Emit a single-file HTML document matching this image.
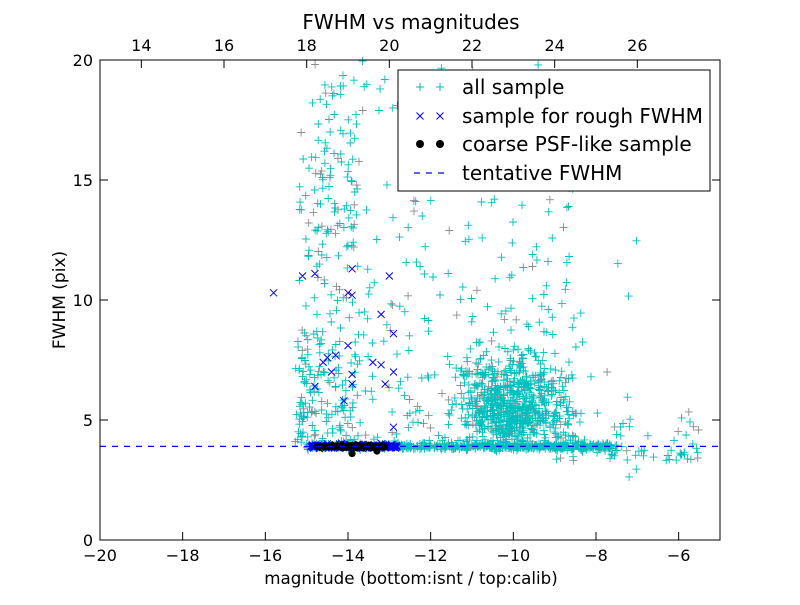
<!DOCTYPE html>
<html><head><meta charset="utf-8">
<style>
body{margin:0;background:#fff;}
svg text{font-family:"DejaVu Sans","Liberation Sans",sans-serif;fill:#000;}
</style></head>
<body>
<svg id="s" width="800" height="600" xmlns="http://www.w3.org/2000/svg">
<rect width="800" height="600" fill="#fff"/>
<g id="pts"></g>
<line x1="100" y1="446.4" x2="720" y2="446.4" stroke="#0000ff" stroke-width="1.2" stroke-dasharray="6,6"/>
<rect x="100" y="60" width="620" height="480" fill="none" stroke="#000" stroke-width="1"/>
<g id="ticks"></g>
<text x="411" y="29" font-size="20" text-anchor="middle">FWHM vs magnitudes</text>
<text x="411" y="584" font-size="16.7" text-anchor="middle">magnitude (bottom:isnt / top:calib)</text>
<text transform="translate(65,300) rotate(-90)" font-size="17" text-anchor="middle">FWHM (pix)</text>
<rect x="398" y="70" width="312" height="121" fill="#fff" stroke="#000" stroke-width="1"/>
<g stroke="#00bfbf" stroke-width="1"><path d="M416 87h8M420 83v8M436 87h8M440 83v8"/></g>
<g stroke="#0000ff" stroke-width="1"><path d="M416.5 112.5l7 7M423.5 112.5l-7 7M436.5 112.5l7 7M443.5 112.5l-7 7"/></g>
<circle cx="420" cy="144" r="4" fill="#000"/><circle cx="440" cy="144" r="4" fill="#000"/>
<line x1="414" y1="173" x2="446" y2="173" stroke="#0000ff" stroke-dasharray="6,6" stroke-width="1.2"/>
<text x="462" y="94" font-size="20">all sample</text>
<text x="462" y="123" font-size="20">sample for rough FWHM</text>
<text x="462" y="151" font-size="20">coarse PSF-like sample</text>
<text x="462" y="180" font-size="20">tentative FWHM</text>
</svg>
<script>
function X(m){return 100+(m+20)*41.333;}
function Y(f){return 540-f*24;}
var seed=12345;function r(){seed=(seed*1103515245+12345)%2147483648;return seed/2147483648;}
function n(){return (r()+r()+r()+r()-2)*0.9;}
var t=document.getElementById("ticks"),h="";
for(var m=-20;m<=-6;m+=2){var x=X(m);h+='<line x1="'+x+'" y1="540" x2="'+x+'" y2="532" stroke="#000"/><text x="'+x+'" y="561" font-size="16" text-anchor="middle">'+(m<0?'\u2212'+(-m):m)+'</text>';}
for(var m=14;m<=26;m+=2){var x=X(m-33);h+='<line x1="'+x+'" y1="60" x2="'+x+'" y2="68" stroke="#000"/><text x="'+x+'" y="51" font-size="16" text-anchor="middle">'+m+'</text>';}
for(var f=0;f<=20;f+=5){var y=Y(f);h+='<line x1="100" y1="'+y+'" x2="108" y2="'+y+'" stroke="#000"/><line x1="712" y1="'+y+'" x2="720" y2="'+y+'" stroke="#000"/><text x="93" y="'+(y+6)+'" font-size="16" text-anchor="end">'+f+'</text>';}
t.innerHTML=h;
var p="",g="",b="",k="";
function plus(m,f,gray){var x=X(m),y=Y(f);if(y<60||y>540||x<100||x>720)return;var s="M"+(x-4).toFixed(1)+" "+y.toFixed(1)+"h8M"+x.toFixed(1)+" "+(y-4).toFixed(1)+"v8";if(gray)g+=s;else p+=s;}
function add(m,f){plus(m,f,r()<0.15);}
for(var i=0;i<550;i++){var m=-15+r()*7.5;add(m,3.9+n()*0.12);}
for(var i=0;i<700;i++){var m=-10+n()*1.2;var f=3.6+Math.abs(n())*3.2+r()*1.5;add(m,f);}
for(var i=0;i<320;i++){var m=-14.8+r()*6.5;var f=4+Math.pow(r(),1.6)*16;add(m,f);}
for(var i=0;i<200;i++){var m=-15.2+r()*1.5;var f=4+Math.pow(r(),1.3)*15;add(m,f);}
for(var i=0;i<40;i++){var m=-15.3+r()*0.5;add(m,4+r()*5);}
for(var i=0;i<70;i++){var m=-9+r()*3.5;var f=3.3+Math.abs(n())*1.8;add(m,f);}
for(var i=0;i<25;i++){add(-9.5+r()*2.5,2+r()*12);}
function cross(m,f){var x=X(m),y=Y(f);b+="M"+(x-3.5).toFixed(1)+" "+(y-3.5).toFixed(1)+"l7 7M"+(x+3.5).toFixed(1)+" "+(y-3.5).toFixed(1)+"l-7 7";}
for(var i=0;i<180;i++){cross(-14.9+r()*2.1,3.9+n()*0.08);}
var bx=[[-15.8,10.3],[-15.1,11],[-14.8,11.1],[-13.9,11.3],[-13,11],[-14,10.3],[-13.9,10.2],[-12.9,8.6],[-14,8.1],[-13.2,9.4],[-14.5,7.6],[-14.6,7.4],[-14.4,7],[-13.9,6.9],[-13.2,7.3],[-12.9,7],[-14.8,6.4],[-13.9,6.5],[-13.1,6.5],[-13.4,7.4],[-14.3,7.7],[-12.9,4.7],[-14.1,5.8]];
bx.forEach(function(a){cross(a[0],a[1]);});
for(var i=0;i<90;i++){k+='<circle cx="'+X(-14.8+r()*1.7).toFixed(1)+'" cy="'+Y(3.9+n()*0.05).toFixed(1)+'" r="3.5"/>';}
k+='<circle cx="'+X(-13.9)+'" cy="'+Y(3.6)+'" r="3.5"/><circle cx="'+X(-13.3)+'" cy="'+Y(3.7)+'" r="3.5"/>';
document.getElementById("pts").innerHTML='<path d="'+g+'" stroke="#8c8c8c" stroke-width="0.9" fill="none"/><path d="'+p+'" stroke="#00bfbf" stroke-width="0.9" fill="none"/><path d="'+b+'" stroke="#0000ff" stroke-width="1" fill="none"/><g fill="#000">'+k+'</g>';
</script>
</body></html>
